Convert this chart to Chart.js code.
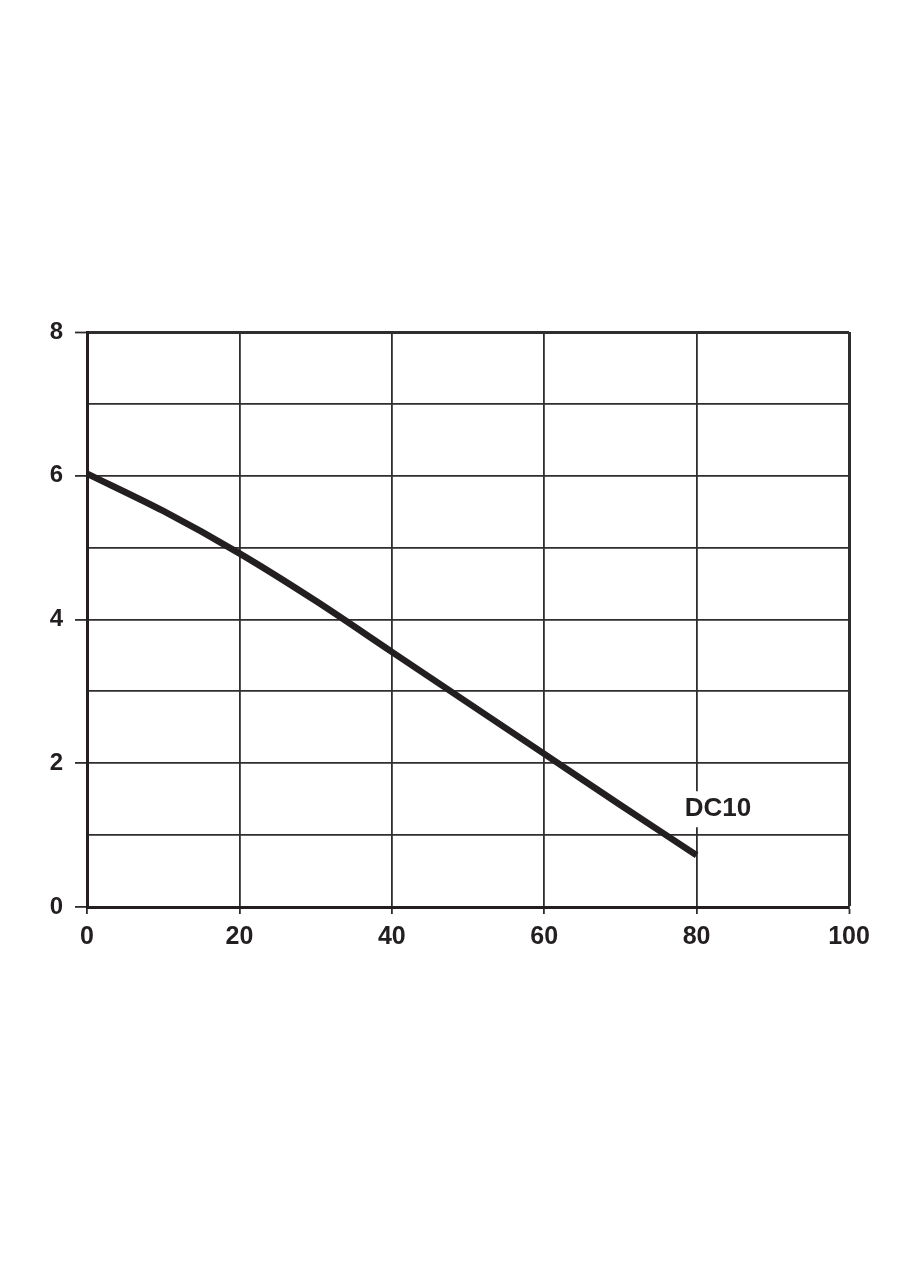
<!DOCTYPE html>
<html>
<head>
<meta charset="utf-8">
<title>DC10</title>
<script src="https://cdn.jsdelivr.net/npm/chart.js@4"></script>
<style>
  html, body { margin: 0; padding: 0; background: #fff; }
  canvas { display: block; }
</style>
</head>
<body>
<canvas id="curveChart" width="905" height="1280"></canvas>
<script>
  const flowValues = [0, 10, 20, 30, 40, 50, 60, 70, 80];
  const headValues = [6.03, 5.51, 4.92, 4.26, 3.55, 2.84, 2.13, 1.42, 0.72];
  const xTicks = [0, 20, 40, 60, 80, 100];
  const yTicks = [0, 2, 4, 6, 8];
  const seriesName = "DC10";
  const labelPos = [82.8, 1.36];

  const ink = "#231f20";
  const gridInk = "#2f2d2e";

  const curvePoints = flowValues.map((x, i) => ({ x: x, y: headValues[i] }));

  // name of the curve, with white box that breaks the grid behind it
  const curveLabel = {
    id: "curveLabel",
    afterDatasetsDraw(chart) {
      const ctx = chart.ctx;
      const x = chart.scales.x.getPixelForValue(labelPos[0]);
      const y = chart.scales.y.getPixelForValue(labelPos[1]);
      ctx.save();
      ctx.font = "bold 26px 'Liberation Sans', Arial, sans-serif";
      const w = ctx.measureText(seriesName).width;
      ctx.fillStyle = "#fff";
      ctx.fillRect(x - w / 2 - 3, y - 18, w + 6, 36);
      ctx.fillStyle = ink;
      ctx.textAlign = "center";
      ctx.textBaseline = "middle";
      ctx.fillText(seriesName, x, y);
      ctx.restore();
    },
  };

  new Chart(document.getElementById("curveChart"), {
    type: "line",
    data: {
      datasets: [
        {
          label: seriesName,
          data: curvePoints,
          borderColor: ink,
          borderWidth: 6.5,
          pointRadius: 0,
          tension: 0.3,
          fill: false,
        },
      ],
    },
    options: {
      responsive: false,
      devicePixelRatio: 1,
      animation: false,
      layout: { padding: { left: 0, right: 56, top: 332, bottom: 0 } },
      plugins: { legend: { display: false }, tooltip: { enabled: false } },
      scales: {
        x: {
          type: "linear",
          min: 0,
          max: 100,
          afterBuildTicks: (scale) => {
            scale.ticks = xTicks.map((v) => ({ value: v }));
          },
          afterFit: (scale) => {
            scale.height = 1280 - 907;
          },
          grid: {
            color: gridInk,
            lineWidth: (c) => (c.tick && c.tick.value === 100 ? 3 : 1.8),
            tickLength: 7,
            tickColor: gridInk,
            tickWidth: 1.8,
          },
          border: { color: ink, width: 3 },
          ticks: {
            color: ink,
            padding: 8,
            maxRotation: 0,
            font: { family: "'Liberation Sans', Arial, sans-serif", size: 25, weight: "bold" },
          },
        },
        y: {
          min: 0,
          max: 8,
          afterBuildTicks: (scale) => {
            const all = [];
            for (let v = 0; v <= 8; v++) all.push({ value: v });
            scale.ticks = all;
          },
          afterFit: (scale) => {
            scale.width = 87;
          },
          grid: {
            color: gridInk,
            lineWidth: (c) => (c.tick && c.tick.value === 8 ? 3 : 1.8),
            tickLength: 12,
            tickColor: (c) => (yTicks.includes(c.tick.value) ? gridInk : "rgba(0,0,0,0)"),
            tickWidth: 1.8,
          },
          border: { color: ink, width: 3 },
          ticks: {
            color: ink,
            padding: 12,
            callback: (v) => (yTicks.includes(v) ? v : ""),
            font: { family: "'Liberation Sans', Arial, sans-serif", size: 24, weight: "bold" },
          },
        },
      },
    },
    plugins: [curveLabel],
  });
</script>
</body>
</html>
